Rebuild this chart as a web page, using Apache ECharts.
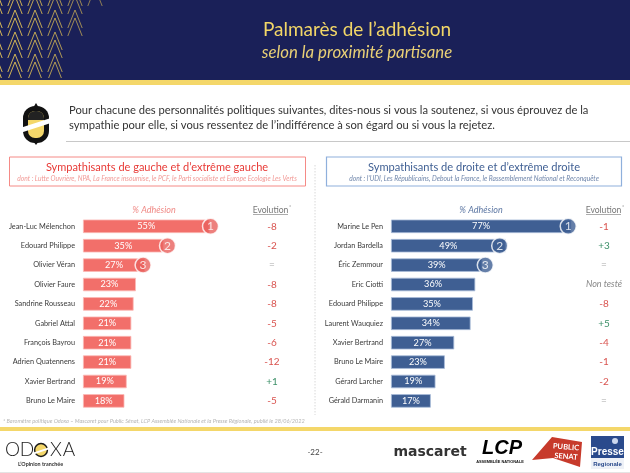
<!DOCTYPE html>
<html><head><meta charset="utf-8">
<style>html,body{margin:0;padding:0;background:#fff}#c{width:630px;height:473px}</style>
<script src="https://cdn.jsdelivr.net/npm/echarts@6/dist/echarts.min.js"></script>
</head><body><div id="c"></div>
<script>
const leftNames = ['Jean-Luc Mélenchon','Edouard Philippe','Olivier Véran','Olivier Faure','Sandrine Rousseau','Gabriel Attal','François Bayrou','Adrien Quatennens','Xavier Bertrand','Bruno Le Maire'];
const leftValues = [55,35,27,23,22,21,21,21,19,18];
const leftEvolution = ['-8','-2','=','-8','-8','-5','-6','-12','+1','-5'];
const rightNames = ['Marine Le Pen','Jordan Bardella','Éric Zemmour','Eric Ciotti','Edouard Philippe','Laurent Wauquiez','Xavier Bertrand','Bruno Le Maire','Gérard Larcher','Gérald Darmanin'];
const rightValues = [77,49,39,36,35,34,27,23,19,17];
const rightEvolution = ['-1','+3','=','Non testé','-8','+5','-4','-1','-2','='];
const ranks = [1,2,3];

const F = 'Lato, "Open Sans", sans-serif';
const RED = '#f26f6a', REDDK = '#e8605d', BLUE = '#3f5f93', NAVY = '#1a2058', YEL = '#f4d76a';

function txt(x,y,t,size,fill,o){return {type:'text',x,y,silent:true,style:Object.assign({text:t,fontSize:size,fill,fontFamily:F,align:'center',verticalAlign:'middle'},o||{})};}
function rect(x,y,w,h,fill,o){return Object.assign({type:'rect',silent:true,shape:{x,y,width:w,height:h},style:{fill}},o||{});}
function line(a,b,c,d,stroke,lw,dash){return {type:'line',silent:true,shape:{x1:a,y1:b,x2:c,y2:d},style:{stroke,lineWidth:lw||1,lineDash:dash||null}};}

const deco = [];
deco.push(rect(0,0,630,80,NAVY));
deco.push(rect(0,80,630,5,YEL));
// chevron decoration
for(const ay of [-12,10,32,54]){
  for(const ax of [-5,15,35,55,75,95]){
    for(const dy of [0,8]){
      const py=ay+dy;
      if(ax>92-py*0.55) continue;
      const op=0.6+0.4*(1-ax/95);
      const b=Math.min(py+18,78), w=(b-py)*0.4;
      deco.push({type:'polyline',z:1,silent:true,shape:{points:[[ax-w,b],[ax,py],[ax+w,b]]},style:{stroke:'#dcbc55',lineWidth:1,fill:null,opacity:op}});
    }
  }
}
deco.push(txt(357,30,'Palmarès de l’adhésion',19,'#f2d667'));
deco.push(txt(357,53,'selon la proximité partisane',16.8,'#e9d076',{fontStyle:'italic'}));
// question
deco.push(txt(69,110,'Pour chacune des personnalités politiques suivantes, dites-nous si vous la soutenez, si vous éprouvez de la',11.2,'#333',{align:'left'}));
deco.push(txt(69,125,'sympathie pour elle, si vous ressentez de l’indifférence à son égard ou si vous la rejetez.',11.2,'#333',{align:'left'}));
deco.push(line(66,141.5,630,141.5,'#c8c8c8',1));
// question logo
deco.push({type:'polygon',silent:true,shape:{points:[[36,103],[39,108],[33,108]]},style:{fill:'#111'}});
deco.push({type:'polygon',silent:true,shape:{points:[[36,145],[39,141],[33,141]]},style:{fill:'#111'}});
deco.push(rect(23,106,26,37,'#111',{shape:{x:23,y:106,width:26,height:37,r:12}}));
deco.push(rect(28,111,16,27,YEL,{shape:{x:28,y:111,width:16,height:27,r:7}}));
deco.push(rect(28,111,16,9,'#222',{shape:{x:28,y:111,width:16,height:9,r:[7,7,0,0]}}));
deco.push({type:'polygon',silent:true,shape:{points:[[20,128],[54,117],[54,122],[20,133]]},style:{fill:'#fff'}});
// section boxes
deco.push(rect(9.5,157,296,29,'#fff',{style:{fill:'#fff',stroke:'#f58a86',lineWidth:1}}));
deco.push(rect(326.5,157,295,29,'#fff',{style:{fill:'#fff',stroke:'#8fb0dc',lineWidth:1.2}}));
deco.push(txt(157,167.5,'Sympathisants de gauche et d’extrême gauche',11,'#e83a36'));
deco.push(txt(157,179,'dont : Lutte Ouvrière, NPA, La France insoumise, le PCF, le Parti socialiste et Europe Ecologie Les Verts',6.7,'#f29a96',{fontStyle:'italic'}));
deco.push(txt(474,167.5,'Sympathisants de droite et d’extrême droite',11.1,'#3f5f93'));
deco.push(txt(474,179,'dont : l’UDI, Les Républicains, Debout la France, le Rassemblement National et Reconquête',6.7,'#6f86ab',{fontStyle:'italic'}));
// column headers
deco.push(txt(154,210,'% Adhésion',9,'#f08a86',{fontStyle:'italic'}));
deco.push(txt(481,210,'% Adhésion',9,'#5d77a3',{fontStyle:'italic'}));
deco.push(txt(270.5,210,'Evolution',8.6,'#777'));
deco.push(line(253,214.5,288,214.5,'#888',0.7));
deco.push(txt(290,207,'*',5,'#777'));
deco.push(txt(603.5,210,'Evolution',8.6,'#777'));
deco.push(line(586,214.5,621,214.5,'#888',0.7));
deco.push(txt(623,207,'*',5,'#777'));
// separator
deco.push(line(315,165,315,415,'#d8d8d8',1,[1.5,1.5]));
// footnote
deco.push(txt(3,421,'* Baromètre politique Odoxa – Mascaret pour Public Sénat, LCP Assemblée Nationale et la Presse Régionale, publié le 28/06/2022',5.6,'#b5b5b5',{align:'left',fontStyle:'italic'}));
deco.push(rect(0,427,630,4,YEL));
deco.push(line(0,472.5,630,472.5,'#e4e4e4',1));
// Odoxa logo
[['O',12.5],['D',27],['X',56],['A',69]].forEach(a=>deco.push(txt(a[1],450,a[0],19,'#1c1c1c',{fontWeight:300})));
deco.push({type:'circle',silent:true,shape:{cx:41,cy:450,r:6.4},style:{fill:YEL,stroke:'#1c1c1c',lineWidth:1.5}});
deco.push({type:'polygon',silent:true,shape:{points:[[32,453],[50,447],[50,449],[32,455]]},style:{fill:'#fff'}});
deco.push(txt(40.5,464.5,'L’Opinion tranchée',5.4,'#333',{fontWeight:700}));
deco.push(txt(315,452,'-22-',8,'#444'));
// partner logos
deco.push(txt(430,452,'mascaret',14,'#333',{fontWeight:700,fontFamily:'"DejaVu Sans"'}));
deco.push(txt(502,448,'LCP',20,'#000',{fontWeight:900,fontStyle:'italic',fontFamily:'"Liberation Sans"'}));
deco.push(txt(500,462,'ASSEMBLÉE NATIONALE',3.9,'#111',{fontWeight:700,fontFamily:'"Liberation Sans"'}));
deco.push({type:'polygon',silent:true,shape:{points:[[532,460],[552,437],[582,442],[580,467],[553,458]]},style:{fill:'#c73a2b'}});
deco.push(Object.assign(txt(566,447,'PUBLIC',7.5,'#fff',{fontWeight:700}),{rotation:-0.08}));
deco.push(Object.assign(txt(566,456.5,'SENAT',7.5,'#fff',{fontWeight:700}),{rotation:-0.08}));
deco.push(rect(591,436,33,33,'#eef1f7'));
deco.push(rect(591,436,33,22,'#2a4a8c'));
deco.push({type:'circle',silent:true,shape:{cx:615,cy:441,r:3},style:{fill:'#cdd8ee'}});
deco.push(txt(607.5,452.5,'Presse',10,'#fff',{fontFamily:'"Liberation Sans"',fontWeight:700}));
deco.push(txt(607.5,464,'Regionale',6,'#2a4a8c',{fontFamily:'"Liberation Sans"',fontWeight:700}));

const GT = 216.6, GH = 194;
const grids = [{left:83,top:GT,width:189,height:GH},{left:391,top:GT,width:213,height:GH}];
const evoRich = {
  neg:{color:'#d9534f',fontSize:10,fontFamily:F},
  pos:{color:'#3d9068',fontSize:10,fontFamily:F},
  eq:{color:'#aaa',fontSize:10,fontFamily:F},
  na:{color:'#888',fontSize:9,fontStyle:'italic',fontFamily:F}
};
function evoFmt(v){
  const k = v==='='?'eq':v[0]==='+'?'pos':v[0]==='-'?'neg':'na';
  return '{'+k+'|'+v+'}';
}
function xAx(i,max){return {gridIndex:i,type:'value',min:0,max,show:false};}
function yAx(i,names){return {gridIndex:i,type:'category',inverse:true,data:names,position:'left',
  axisLine:{show:false},axisTick:{show:false},
  axisLabel:{interval:0,margin:8,fontSize:7.3,color:'#3a3a3a',fontFamily:F}};}
function yEvo(i,evo){return {gridIndex:i,type:'category',inverse:true,data:evo,position:'right',
  axisLine:{show:false},axisTick:{show:false},
  axisLabel:{interval:0,margin:0,align:'center',formatter:evoFmt,rich:evoRich}};}
function barS(i,vals,color,border){return {type:'bar',xAxisIndex:i,yAxisIndex:i*2,data:vals,barWidth:13.5,
  itemStyle:{color,borderColor:border,borderWidth:0.8},silent:true,animation:false,
  label:{show:true,position:'inside',formatter:'{c}%',color:'#fff',fontSize:9.2,fontFamily:F}};}
function rankS(i,vals,color,offs){return {type:'scatter',xAxisIndex:i,yAxisIndex:i*2,symbol:'circle',symbolSize:16,silent:true,animation:false,z:5,
  itemStyle:{color,borderColor:'#fff',borderWidth:1.5},
  data:ranks.map((r,k)=>({value:[vals[k],k],rank:r,symbolOffset:[offs[k],0]})),
  label:{show:true,position:'inside',color:'#fff',fontSize:12,fontFamily:F,
    formatter:p=>String(p.data.rank)}};}
const option = {
  backgroundColor:'#fff',animation:false,
  grid:grids,
  xAxis:[xAx(0,82.17),xAx(1,91)],
  yAxis:[yAx(0,leftNames),yEvo(0,leftEvolution),yAx(1,rightNames),yEvo(1,rightEvolution)],
  series:[
    barS(0,leftValues,RED,'#fbb9b5'),
    rankS(0,leftValues,REDDK,[1,4,-2]),
    barS(1,rightValues,BLUE,'#a9bcd9'),
    rankS(1,rightValues,BLUE,[-3,-6,3])
  ],
  graphic:{elements:deco}
};
echarts.init(document.getElementById('c'),null,{renderer:'canvas'}).setOption(option);
</script></body></html>
